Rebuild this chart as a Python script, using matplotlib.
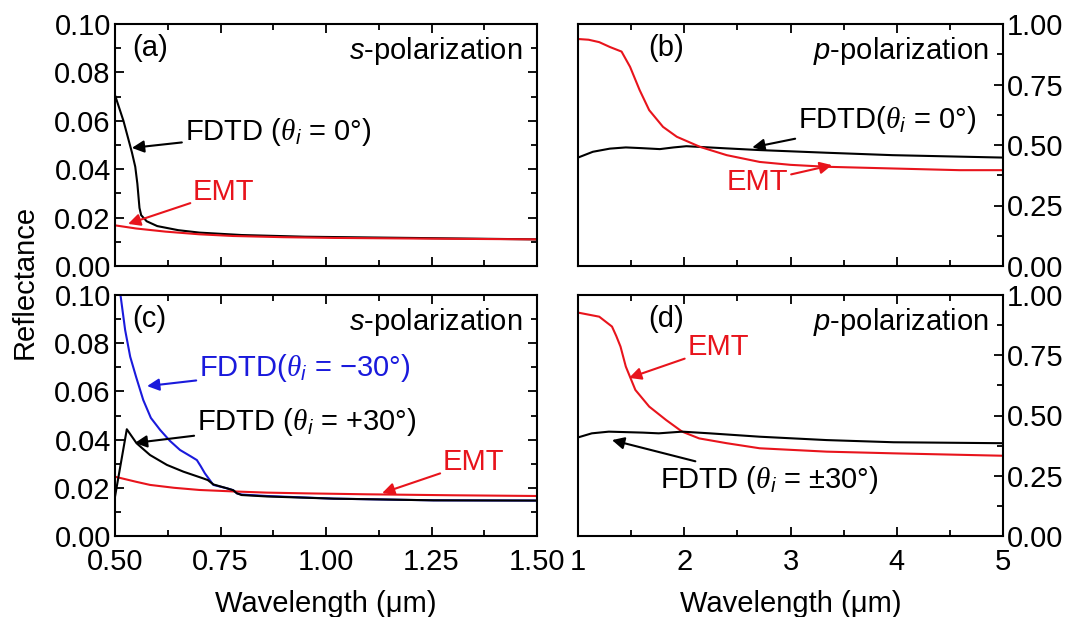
import numpy as np
from matplotlib import pyplot as plt
from matplotlib.ticker import MultipleLocator

plt.rcParams['font.family'] = ['Liberation Sans', 'DejaVu Sans']
plt.rcParams['mathtext.fontset'] = 'custom'
plt.rcParams['mathtext.rm'] = 'Liberation Sans'
plt.rcParams['mathtext.it'] = 'Liberation Sans:italic'
plt.rcParams['mathtext.cal'] = 'Liberation Serif:italic'
plt.rcParams['font.size'] = 21

# (a) s-polarization, normal incidence
wl_a_fdtd = [0.50, 0.52, 0.54, 0.548, 0.553, 0.558, 0.562, 0.575, 0.60, 0.65, 0.70, 0.80, 0.95, 1.20, 1.50]
r_a_fdtd = [0.0706, 0.060, 0.047, 0.041, 0.034, 0.024, 0.021, 0.0185, 0.0165, 0.0148, 0.0138, 0.0128, 0.0121, 0.0116, 0.0110]
wl_a_emt = [0.50, 0.55, 0.62, 0.70, 0.78, 0.90, 1.02, 1.25, 1.50]
r_a_emt = [0.0168, 0.0155, 0.0142, 0.0131, 0.0124, 0.0119, 0.0116, 0.0113, 0.0110]

# (b) p-polarization, normal incidence
wl_b_emt = [1.0, 1.1, 1.2, 1.3, 1.41, 1.49, 1.58, 1.67, 1.80, 1.93, 2.15, 2.40, 2.71, 3.0, 3.34, 3.96, 4.59, 5.0]
r_b_emt = [0.938, 0.935, 0.925, 0.905, 0.886, 0.823, 0.727, 0.644, 0.575, 0.534, 0.492, 0.458, 0.430, 0.418, 0.410, 0.403, 0.396, 0.396]
wl_b_fdtd = [1.0, 1.14, 1.3, 1.45, 1.6, 1.77, 1.9, 2.02, 2.15, 2.4, 2.71, 3.34, 3.96, 5.0]
r_b_fdtd = [0.448, 0.472, 0.485, 0.490, 0.487, 0.483, 0.490, 0.495, 0.492, 0.486, 0.479, 0.468, 0.458, 0.448]

# (c) s-polarization, +/-30 deg
wl_c_m30 = [0.513, 0.524, 0.536, 0.55, 0.567, 0.585, 0.607, 0.63, 0.654, 0.68, 0.694, 0.703, 0.713, 0.733, 0.765, 0.78, 0.789, 0.80, 0.86, 1.018, 1.255, 1.50]
r_c_m30 = [0.100, 0.0855, 0.0744, 0.066, 0.0564, 0.049, 0.044, 0.0395, 0.0357, 0.033, 0.0315, 0.029, 0.026, 0.0212, 0.0198, 0.019, 0.0177, 0.0172, 0.0166, 0.0155, 0.0148, 0.0147]
wl_c_p30 = [0.50, 0.528, 0.551, 0.583, 0.623, 0.662, 0.709, 0.72, 0.733, 0.765, 0.78, 0.789, 0.80, 0.86, 1.018, 1.255, 1.50]
r_c_p30 = [0.0163, 0.0443, 0.0385, 0.0336, 0.0295, 0.0267, 0.0239, 0.0232, 0.0214, 0.0198, 0.019, 0.0177, 0.017, 0.0164, 0.0155, 0.0148, 0.0147]
wl_c_emt = [0.50, 0.55, 0.583, 0.64, 0.70, 0.78, 0.86, 0.95, 1.097, 1.30, 1.50]
r_c_emt = [0.0246, 0.0225, 0.0212, 0.0200, 0.0191, 0.0185, 0.0180, 0.0177, 0.0173, 0.0169, 0.0166]

# (d) p-polarization, +/-30 deg
wl_d_emt = [1.0, 1.2, 1.32, 1.36, 1.40, 1.45, 1.54, 1.67, 1.83, 1.98, 2.14, 2.40, 2.71, 3.34, 3.97, 5.0]
r_d_emt = [0.927, 0.910, 0.869, 0.830, 0.786, 0.703, 0.606, 0.537, 0.481, 0.433, 0.405, 0.385, 0.364, 0.350, 0.343, 0.333]
wl_d_fdtd = [1.0, 1.13, 1.29, 1.45, 1.61, 1.76, 1.98, 2.24, 2.71, 3.34, 3.97, 5.0]
r_d_fdtd = [0.409, 0.426, 0.433, 0.431, 0.429, 0.426, 0.433, 0.426, 0.412, 0.398, 0.389, 0.385]

RED = '#e8141c'
BLUE = '#1a1adc'
TH = r'$\mathcal{\theta}_\mathit{i}$'

fig = plt.figure(figsize=(10.83, 6.17), dpi=100)
W, H = 1083, 617


def mk_axes(l, t, r, b):
    return fig.add_axes([l / W, 1 - b / H, (r - l) / W, (b - t) / H])


axa = mk_axes(115, 24, 537, 266)
axb = mk_axes(578, 24, 1003, 266)
axc = mk_axes(115, 295, 537, 536)
axd = mk_axes(578, 295, 1003, 536)


def style(ax, left):
    for s in ax.spines.values():
        s.set_linewidth(1.5)
    ax.tick_params(which='both', direction='in', width=1.3, top=True, labelsize=21)
    ax.tick_params(which='major', length=6.5)
    ax.tick_params(which='minor', length=4)
    if left:
        ax.set_xlim(0.5, 1.5)
        ax.set_ylim(0, 0.1)
        ax.xaxis.set_major_locator(MultipleLocator(0.25))
        ax.xaxis.set_minor_locator(MultipleLocator(0.125))
        ax.yaxis.set_major_locator(MultipleLocator(0.02))
        ax.yaxis.set_minor_locator(MultipleLocator(0.01))
        ax.yaxis.set_major_formatter(lambda v, p: '%.2f' % v)
        ax.xaxis.set_major_formatter(lambda v, p: '%.2f' % v)
        ax.tick_params(which='both', right=True)
    else:
        ax.set_xlim(1, 5)
        ax.set_ylim(0, 1)
        ax.xaxis.set_major_locator(MultipleLocator(1))
        ax.xaxis.set_minor_locator(MultipleLocator(0.5))
        ax.yaxis.set_major_locator(MultipleLocator(0.25))
        ax.yaxis.set_minor_locator(MultipleLocator(0.125))
        ax.yaxis.set_major_formatter(lambda v, p: '%.2f' % v)
        ax.tick_params(which='both', left=False, right=True, labelleft=False, labelright=True)


for ax, left in [(axa, True), (axb, False), (axc, True), (axd, False)]:
    style(ax, left)
    ax.tick_params(axis='y', pad=3)
    ax.tick_params(axis='x', pad=9)

axa.tick_params(labelbottom=False)
axb.tick_params(labelbottom=False)

lw = 1.5
aprops = dict(arrowstyle='-|>', mutation_scale=18, lw=1.5, shrinkA=0, shrinkB=0)

# (a)
axa.plot(wl_a_fdtd, r_a_fdtd, color='black', lw=lw)
axa.plot(wl_a_emt, r_a_emt, color=RED, lw=lw)
axa.text(0.04, 0.9, '(a)', transform=axa.transAxes, ha='left', va='center')
axa.text(0.965, 0.89, '$\\mathit{s}$-polarization', transform=axa.transAxes, ha='right', va='center')
axa.annotate('FDTD (' + TH + ' = 0°)', xy=(0.540, 0.0488), xytext=(0.665, 0.0554),
             va='center', ha='left', color='black', arrowprops=dict(color='black', **aprops))
axa.annotate('EMT', xy=(0.531, 0.0174), xytext=(0.685, 0.0306),
             va='center', ha='left', color=RED, arrowprops=dict(color=RED, **aprops))

# (b)
axb.plot(wl_b_fdtd, r_b_fdtd, color='black', lw=lw)
axb.plot(wl_b_emt, r_b_emt, color=RED, lw=lw)
axb.text(0.165, 0.9, '(b)', transform=axb.transAxes, ha='left', va='center')
axb.text(0.965, 0.89, '$\\mathit{p}$-polarization', transform=axb.transAxes, ha='right', va='center')
axb.annotate('FDTD(' + TH + ' = 0°)', xy=(2.64, 0.49), xytext=(3.07, 0.603),
             va='center', ha='left', color='black', arrowprops=dict(color='black', **aprops))
axb.annotate('EMT', xy=(3.39, 0.417), xytext=(2.98, 0.347),
             va='center', ha='right', color=RED, arrowprops=dict(color=RED, **aprops))

# (c)
axc.plot(wl_c_m30, r_c_m30, color=BLUE, lw=lw)
axc.plot(wl_c_emt, r_c_emt, color=RED, lw=lw)
axc.plot(wl_c_p30, r_c_p30, color='black', lw=lw)
axc.text(0.04, 0.9, '(c)', transform=axc.transAxes, ha='left', va='center')
axc.text(0.965, 0.89, '$\\mathit{s}$-polarization', transform=axc.transAxes, ha='right', va='center')
axc.annotate('FDTD(' + TH + ' = −30°)', xy=(0.576, 0.0622), xytext=(0.699, 0.0697),
             va='center', ha='left', color=BLUE, arrowprops=dict(color=BLUE, **aprops))
axc.annotate('FDTD (' + TH + ' = +30°)', xy=(0.547, 0.0386), xytext=(0.694, 0.0473),
             va='center', ha='left', color='black', arrowprops=dict(color='black', **aprops))
axc.annotate('EMT', xy=(1.133, 0.0178), xytext=(1.277, 0.0307),
             va='center', ha='left', color=RED, arrowprops=dict(color=RED, **aprops))
axc.set_xlabel('Wavelength (μm)', fontsize=21, labelpad=10)

# (d)
axd.plot(wl_d_emt, r_d_emt, color=RED, lw=lw)
axd.plot(wl_d_fdtd, r_d_fdtd, color='black', lw=lw)
axd.text(0.165, 0.9, '(d)', transform=axd.transAxes, ha='left', va='center')
axd.text(0.965, 0.89, '$\\mathit{p}$-polarization', transform=axd.transAxes, ha='right', va='center')
axd.annotate('EMT', xy=(1.48, 0.656), xytext=(2.03, 0.784),
             va='center', ha='left', color=RED, arrowprops=dict(color=RED, **aprops))
axd.annotate('FDTD (' + TH + ' = ±30°)', xy=(1.32, 0.398), xytext=(1.77, 0.232),
             va='center', ha='left', color='black', arrowprops=dict(color='black', **aprops))
axd.set_xlabel('Wavelength (μm)', fontsize=21, labelpad=10)

fig.text(25 / W, 1 - 282 / H, 'Reflectance', rotation=90, ha='center', va='center', fontsize=21)

plt.savefig('out.png', dpi=100)
